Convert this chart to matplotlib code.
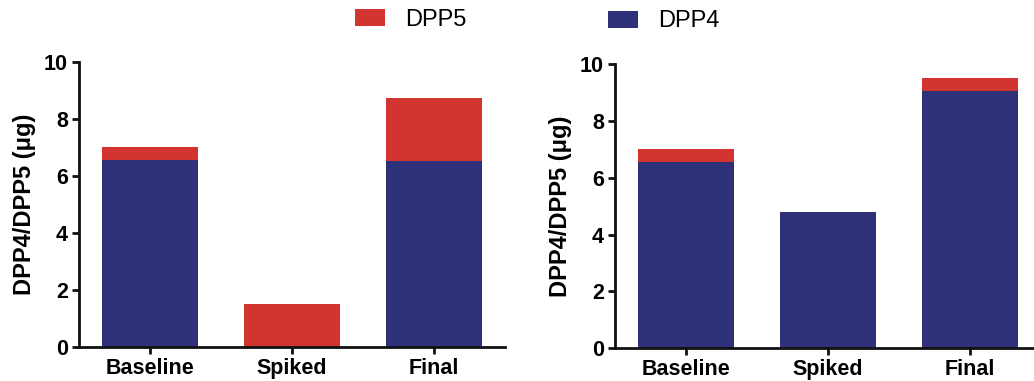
import matplotlib
matplotlib.use("Agg")
import matplotlib.pyplot as plt
from matplotlib.patches import Patch

plt.rcParams['font.family'] = ['Liberation Sans', 'DejaVu Sans']

categories = ["Baseline", "Spiked", "Final"]

# DPP4 (bottom) and DPP5 (top) amounts in micrograms, per panel
left_dpp4 = [6.55, 0.0, 6.52]
left_dpp5 = [0.45, 1.5, 2.2]
right_dpp4 = [6.55, 4.8, 9.05]
right_dpp5 = [0.45, 0.0, 0.47]

yticks = [0, 2, 4, 6, 8, 10]
ylabel = "DPP4/DPP5 (\u03bcg)"

RED = "#D2352F"
BLUE = "#2E3079"

fig = plt.figure(figsize=(10.34, 3.81), dpi=100)


def draw_panel(ax, dpp4, dpp5):
    x = range(len(categories))
    ax.bar(x, dpp4, width=0.67, color=BLUE, edgecolor="none")
    ax.bar(x, dpp5, width=0.67, bottom=dpp4, color=RED, edgecolor="none")
    ax.set_ylim(0, 10)
    ax.set_xlim(-0.5, 2.5)
    ax.set_yticks(yticks)
    ax.set_xticks(list(x))
    ax.set_xticklabels(categories)
    for s in ("top", "right"):
        ax.spines[s].set_visible(False)
    for s in ("left", "bottom"):
        ax.spines[s].set_linewidth(2.0)
        ax.spines[s].set_color("#111111")
    ax.tick_params(axis="both", direction="out", length=5, width=2.0,
                   color="#111111", labelsize=15.5, pad=3)
    for lab in ax.get_xticklabels() + ax.get_yticklabels():
        lab.set_fontweight("bold")
    ax.set_ylabel(ylabel, fontsize=17, fontweight="bold", labelpad=6)
    ax.set_facecolor("none")


ax1 = fig.add_axes([0.0764, 0.090, 0.412, 0.748])
draw_panel(ax1, left_dpp4, left_dpp5)

ax2 = fig.add_axes([0.5948, 0.0858, 0.412, 0.746])
draw_panel(ax2, right_dpp4, right_dpp5)

legend_kw = dict(loc="center left", frameon=False, fontsize=17,
                 handlelength=1.27, handleheight=0.72, handletextpad=0.85,
                 borderpad=0, borderaxespad=0)
fig.legend(handles=[Patch(facecolor=RED, label="DPP5")],
           bbox_to_anchor=(0.3433, 0.9475), **legend_kw)
fig.legend(handles=[Patch(facecolor=BLUE, label="DPP4")],
           bbox_to_anchor=(0.588, 0.9436), **legend_kw)

fig.savefig("out.png", dpi=100)
